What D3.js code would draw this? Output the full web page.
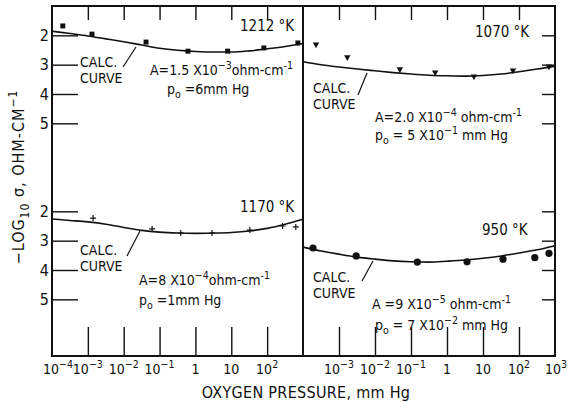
<!DOCTYPE html>
<html>
<head>
<meta charset="utf-8">
<script src="https://cdn.jsdelivr.net/npm/d3@7"></script>
<style>
	body { margin: 0; background: #fff; }
	svg text { font-family: "Liberation Sans Narrow", "DejaVu Sans Condensed", "Liberation Sans", sans-serif; fill: #111; }
</style>
</head>
<body>
<svg id="chart" width="571" height="402"></svg>
<script>
// ---- data ----
// pressure (mm Hg) at which the calculated curves were read
const curvePressure = [1e-4, 3.2e-4, 1e-3, 3.2e-3, 1e-2, 3.2e-2, 0.1, 0.32, 1, 3.2, 10, 32, 100, 320, 1000];

// -log10 sigma along the calculated curves
const curve1212 = [1.86, 1.94, 2.02, 2.12, 2.22, 2.33, 2.44, 2.51, 2.55, 2.57, 2.57, 2.53, 2.46, 2.38, 2.28];
const curve1070 = [2.90, 3.00, 3.08, 3.15, 3.21, 3.27, 3.32, 3.36, 3.38, 3.39, 3.37, 3.32, 3.24, 3.15, 3.05];
const curve1170 = [2.26, 2.31, 2.36, 2.44, 2.55, 2.65, 2.71, 2.74, 2.75, 2.74, 2.72, 2.67, 2.58, 2.44, 2.27];
const curve950  = [3.22, 3.35, 3.46, 3.56, 3.63, 3.69, 3.72, 3.73, 3.70, 3.66, 3.60, 3.52, 3.42, 3.31, 3.17];

// measured points
const p1212 = [2.0e-4, 1.3e-3, 4.2e-2, 0.62, 7.9, 81, 720];
const v1212 = [1.68, 1.96, 2.23, 2.54, 2.54, 2.43, 2.26];
const p1070 = [2.3e-4, 1.7e-3, 4.9e-2, 0.47, 5.6, 68, 680];
const v1070 = [2.33, 2.77, 3.18, 3.29, 3.42, 3.22, 3.08];
const p1170 = [1.4e-3, 6.2e-2, 0.39, 2.9, 33, 270, 630];
const v1170 = [2.23, 2.60, 2.74, 2.74, 2.64, 2.50, 2.53];
const p950  = [1.9e-4, 3.0e-3, 0.15, 3.6, 36, 275, 680];
const v950  = [3.25, 3.52, 3.73, 3.72, 3.63, 3.58, 3.43];

// axes
const majorDecades = [1e-3, 1e-2, 1e-1, 1, 10, 100];
const leftTickValues = [1e-4, 1e-3, 1e-2, 1e-1, 1, 10, 100];
const leftTickLabels = [['10', '−4'], ['10', '−3'], ['10', '−2'], ['10', '−1'], ['1'], ['10'], ['10', '2']];
const rightTickValues = [1e-3, 1e-2, 1e-1, 1, 10, 100, 1000];
const rightTickLabels = [['10', '−3'], ['10', '−2'], ['10', '−1'], ['1'], ['10'], ['10', '2'], ['10', '3']];
const yTickValues = [2, 3, 4, 5];

// ---- layout ----
const svg = d3.select('#chart');
const frame = { left: 52, right: 555, top: 6, bottom: 356, mid: 303 };

const xLeft = d3.scaleLog().domain([1e-4, 1e3]).range([frame.left, frame.mid]);
const xRight = d3.scaleLog().domain([1e-4, 1e3]).range([frame.mid, frame.right]);
const yTop = d3.scaleLinear().domain([1, 7]).range([6, 182]);
const yBot = d3.scaleLinear().domain([1, 7]).range([182, 358]);

// rich text helper: segments of [string, 'sup'|'sub'|undefined]
function richText(parent, x, y, segs, size, anchor) {
	const t = parent.append('text')
		.attr('x', x).attr('y', y)
		.attr('font-size', size)
		.attr('text-anchor', anchor || 'start');
	let shift = 0;
	segs.forEach(([s, kind]) => {
		const target = kind === 'sup' ? -size * 0.42 : kind === 'sub' ? size * 0.3 : 0;
		t.append('tspan')
			.attr('dy', target - shift)
			.attr('font-size', kind ? size * 0.75 : size)
			.text(s);
		shift = target;
	});
	return t;
}

// ---- ticks ----
function xTicks(x) {
	svg.append('g')
		.attr('transform', `translate(0,${frame.top})`)
		.call(d3.axisTop(x).tickValues(majorDecades).tickSize(-14).tickFormat(''))
		.call(g => g.select('.domain').remove());
	svg.append('g')
		.attr('transform', `translate(0,${frame.bottom})`)
		.call(d3.axisBottom(x).tickValues(majorDecades).tickSize(-29).tickFormat(''))
		.call(g => g.select('.domain').remove());
}
xTicks(xLeft);
xTicks(xRight);

[yTop, yBot].forEach(y => {
	svg.append('g')
		.attr('transform', `translate(${frame.left},0)`)
		.call(d3.axisLeft(y).tickValues(yTickValues).tickSize(-26).tickPadding(3).tickFormat(d3.format('d')))
		.call(g => g.select('.domain').remove())
		.call(g => g.selectAll('.tick text').attr('font-size', 16).attr('font-family', null));
	svg.append('g')
		.attr('transform', `translate(${frame.right},0)`)
		.call(d3.axisRight(y).tickValues(yTickValues).tickSize(-13).tickFormat(''))
		.call(g => g.select('.domain').remove());
});

svg.selectAll('.tick line').attr('stroke', '#111').attr('stroke-width', 1.4);

// frame
svg.append('rect')
	.attr('x', frame.left).attr('y', frame.top)
	.attr('width', frame.right - frame.left).attr('height', frame.bottom - frame.top)
	.attr('fill', 'none').attr('stroke', '#111').attr('stroke-width', 2);
svg.append('line')
	.attr('x1', frame.mid).attr('x2', frame.mid)
	.attr('y1', frame.top).attr('y2', frame.bottom)
	.attr('stroke', '#111').attr('stroke-width', 2);

// x tick labels
leftTickValues.forEach((v, i) => {
	richText(svg, xLeft(v) + (i === 0 ? 6 : 0), 374, leftTickLabels[i].map((s, j) => [s, j ? 'sup' : undefined]), 14, 'middle');
});
rightTickValues.forEach((v, i) => {
	richText(svg, xRight(v) + (i === rightTickValues.length - 1 ? 1 : 0), 374, rightTickLabels[i].map((s, j) => [s, j ? 'sup' : undefined]), 14, 'middle');
});

// axis titles
svg.append('text')
	.attr('x', 306).attr('y', 398)
	.attr('text-anchor', 'middle')
	.attr('font-size', 16)
	.attr('letter-spacing', 0.3)
	.text('OXYGEN PRESSURE, mm Hg');

const yTitle = svg.append('g').attr('transform', 'translate(24,177) rotate(-90)');
richText(yTitle, 0, 0, [['−LOG'], ['10', 'sub'], [' σ,  OHM-CM'], ['−1', 'sup']], 16, 'middle')
	.attr('letter-spacing', 1);

// ---- panels ----
const panels = [
	{ x: xLeft, y: yTop, curve: curve1212, p: p1212, v: v1212, marker: 'square' },
	{ x: xRight, y: yTop, curve: curve1070, p: p1070, v: v1070, marker: 'triangle' },
	{ x: xLeft, y: yBot, curve: curve1170, p: p1170, v: v1170, marker: 'plus' },
	{ x: xRight, y: yBot, curve: curve950, p: p950, v: v950, marker: 'circle' }
];

panels.forEach(pn => {
	const line = d3.line()
		.x((d, i) => pn.x(curvePressure[i]))
		.y(d => pn.y(d))
		.curve(d3.curveMonotoneX);
	svg.append('path')
		.datum(pn.curve)
		.attr('d', line)
		.attr('fill', 'none')
		.attr('stroke', '#111')
		.attr('stroke-width', 1.6);

	const pts = svg.append('g').selectAll('g')
		.data(pn.p.map((p, i) => [p, pn.v[i]]))
		.join('g')
		.attr('transform', d => `translate(${pn.x(d[0])},${pn.y(d[1])})`);

	if (pn.marker === 'square') {
		pts.append('rect').attr('x', -2.5).attr('y', -2.5).attr('width', 5).attr('height', 5).attr('fill', '#111');
	} else if (pn.marker === 'triangle') {
		pts.append('path').attr('d', 'M-3.2,-2.6L3.2,-2.6L0,3.2Z').attr('fill', '#111');
	} else if (pn.marker === 'plus') {
		pts.append('path').attr('d', 'M-3,0H3M0,-3V3').attr('stroke', '#111').attr('stroke-width', 1.2);
	} else {
		pts.append('circle').attr('r', 3.6).attr('fill', '#111');
	}
});

// ---- annotations ----
const notes = svg.append('g');
function calcLabel(x, y, lx1, ly1, lx2, ly2) {
	notes.append('text').attr('x', x).attr('y', y).attr('font-size', 14).text('CALC.');
	notes.append('text').attr('x', x).attr('y', y + 16).attr('font-size', 14).text('CURVE');
	notes.append('line')
		.attr('x1', lx1).attr('y1', ly1).attr('x2', lx2).attr('y2', ly2)
		.attr('stroke', '#111').attr('stroke-width', 1.2);
}

// 1212 K
richText(notes, 240, 31, [['1212 °K']], 15);
calcLabel(80, 67, 123, 67, 136, 47);
richText(notes, 150, 75, [['A=1.5 X10'], ['−3', 'sup'], ['ohm-cm'], ['-1', 'sup']], 14);
richText(notes, 167, 94, [['p'], ['o', 'sub'], [' =6mm Hg']], 14);

// 1070 K
richText(notes, 475, 37, [['1070 °K']], 15);
calcLabel(313, 93, 358, 95, 367, 73);
richText(notes, 375, 122, [['A=2.0 X10'], ['−4', 'sup'], [' ohm-cm'], ['-1', 'sup']], 14);
richText(notes, 375, 140, [['p'], ['o', 'sub'], [' = 5 X10'], ['−1', 'sup'], [' mm Hg']], 14);

// 1170 K
richText(notes, 240, 212, [['1170 °K']], 15);
calcLabel(80, 255, 127, 256, 140, 231);
richText(notes, 139, 285, [['A=8 X10'], ['−4', 'sup'], ['ohm-cm'], ['-1', 'sup']], 14);
richText(notes, 139, 305, [['p'], ['o', 'sub'], [' =1mm Hg']], 14);

// 950 K
richText(notes, 482, 235, [['950 °K']], 15);
calcLabel(313, 282, 362, 281, 373, 261);
richText(notes, 372, 309, [['A =9 X10'], ['−5', 'sup'], [' ohm-cm'], ['-1', 'sup']], 14);
richText(notes, 375, 330, [['p'], ['o', 'sub'], [' = 7 X10'], ['−2', 'sup'], [' mm Hg']], 14);
</script>
</body>
</html>
